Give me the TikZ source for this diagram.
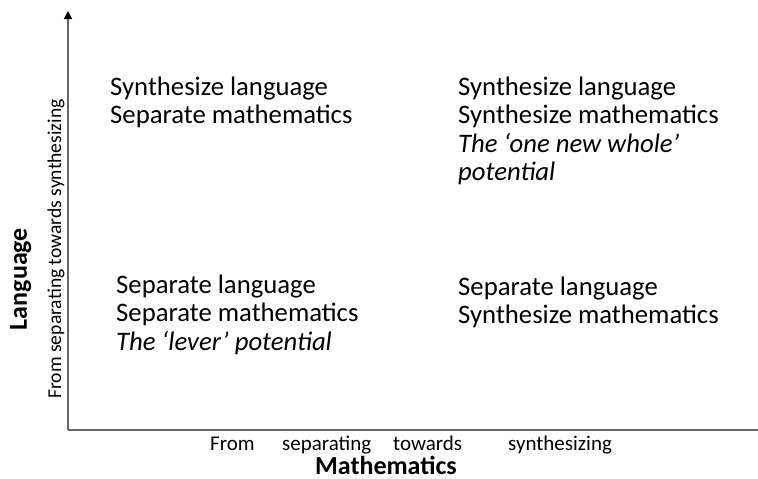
\documentclass[tikz,border=0pt]{standalone}
\usepackage{fontspec}
\setmainfont{Carlito}
\usetikzlibrary{arrows.meta}
\tikzset{
  quad/.style={anchor=base west, inner sep=0pt, align=left, font=\fontsize{26.7}{28.6}\selectfont},
  axtext/.style={inner sep=0pt, font=\fontsize{21}{24}\selectfont},
  axsub/.style={inner sep=0pt, font=\fontsize{19.6}{24}\selectfont},
  axtitle/.style={inner sep=0pt, font=\fontsize{26}{30}\selectfont\bfseries},
  axisline/.style={draw=black!60, line width=1.5pt}
}
\begin{document}
\begin{tikzpicture}[x=1pt,y=-1pt]
\useasboundingbox (0,0) rectangle (758,479);
\coordinate (origin) at (68,430);
\coordinate (ytop) at (68,11);
\coordinate (xend) at (758,430);
\draw[axisline] (origin) -- (xend);
\draw[axisline, -{Triangle[length=8pt,width=8pt,color=black]}] (origin) -- (ytop);

% base anchor of a multi-line node = baseline of its last line
\node[quad] (tl) at (110,123.6) {Synthesize language\\Separate mathematics};
\node[quad] (tr) at (458,180.8) {Synthesize language\\Synthesize mathematics\\\textit{The ‘one new whole’}\\\textit{potential}};
\node[quad] (bl) at (116,350.2) {Separate language\\Separate mathematics\\\textit{The ‘lever’ potential}};
\node[quad] (br) at (458,323.6) {Separate language\\Synthesize mathematics};

\node[axtext, anchor=base west] (xfrom) at (210,450) {From};
\node[axtext, anchor=base west] (xsep) at (282,450) {separating};
\node[axtext, anchor=base west] (xtow) at (393,450) {towards};
\node[axtext, anchor=base west] (xsyn) at (508,450) {synthesizing};
\node[axtitle, anchor=base] (xtitle) at (386,474) {Mathematics};

\node[axsub, rotate=90, anchor=base] (ysub) at (61,249) {From separating towards synthesizing};
\node[axtitle, rotate=90, anchor=base] (ytitle) at (27,279) {Language};
\end{tikzpicture}
\end{document}
